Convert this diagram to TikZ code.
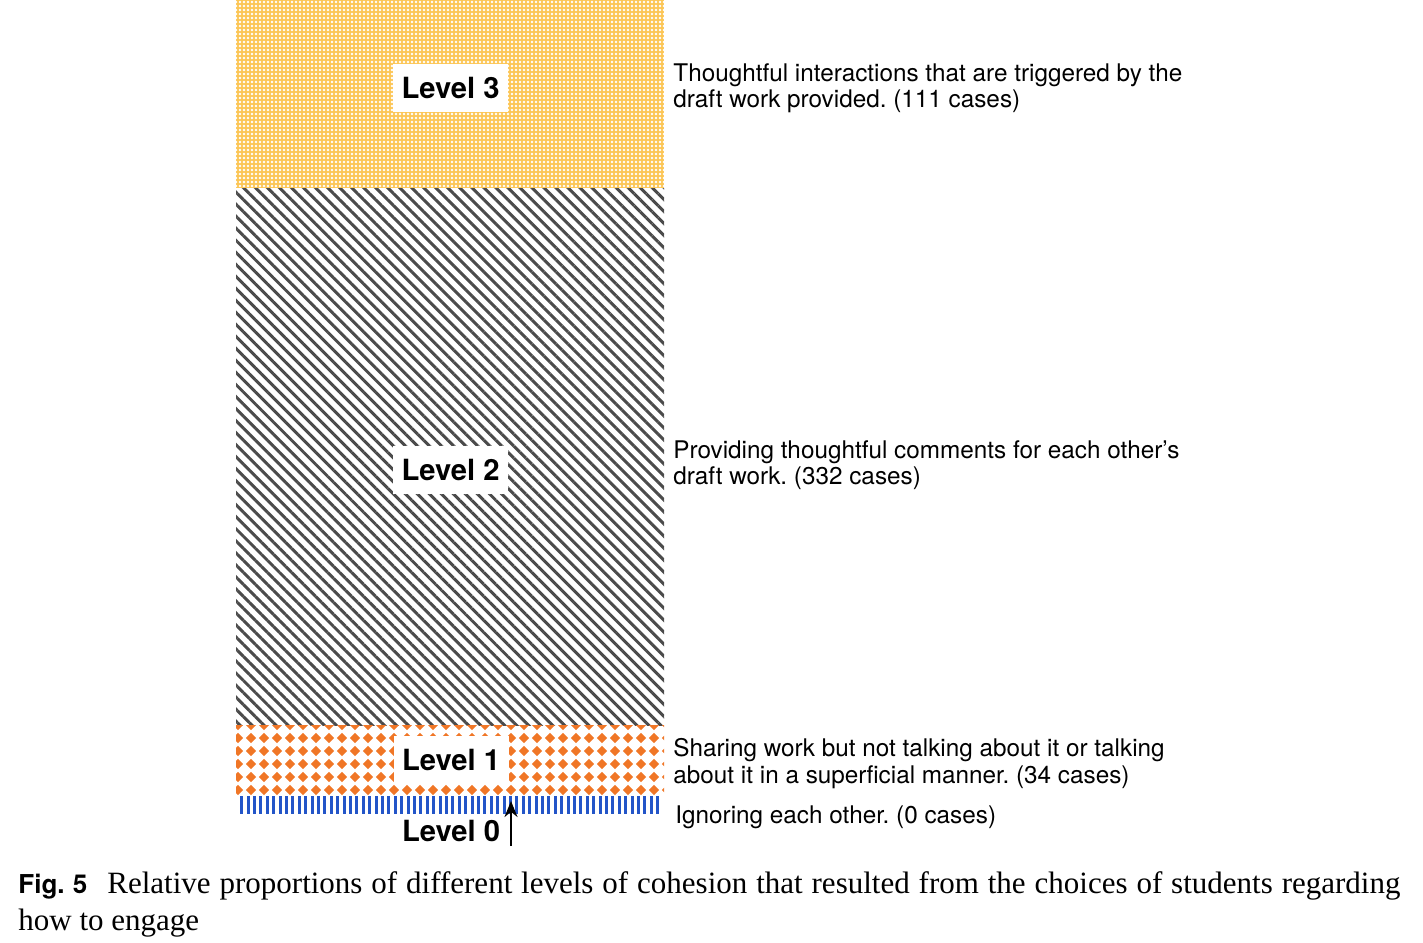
\documentclass[tikz,border=0pt]{standalone}
\usepackage{fontspec}
\setmainfont{Liberation Serif}
\newfontfamily\dfont{TeX Gyre Heros}
\usetikzlibrary{patterns.meta,arrows.meta}
\frenchspacing
\definecolor{yel}{RGB}{252,198,85}
\definecolor{hatchc}{RGB}{75,75,75}
\definecolor{orng}{RGB}{240,118,38}
\definecolor{blu}{RGB}{35,85,200}
\tikzset{
  lvl/.style={fill=white, minimum width=57.5pt, minimum height=24pt, inner sep=0pt,
    font=\dfont\bfseries\fontsize{14.6}{16}\selectfont},
  desc/.style={anchor=base west, inner sep=0pt, font=\dfont\fontsize{12.15}{14}\selectfont},
  captxt/.style={anchor=base west, inner sep=0pt, font=\fontsize{15.5}{17}\selectfont},
}
\begin{document}
\begin{tikzpicture}[x=0.5pt,y=-0.5pt]
\useasboundingbox (0,0) rectangle (1423,942);
% Level 3 region
\fill[yel] (236,0) rectangle (664,188);
\fill[pattern={Dots[radius=0.68pt,distance=2pt]},pattern color=white] (236,0) rectangle (664,188);
% Level 2 region
\fill[pattern={Lines[angle=-45,distance=4.25pt,line width=1.5pt]},pattern color=hatchc] (236,188) rectangle (664,725);
% Level 1 region
\begin{scope}
  \clip (236,725) rectangle (664,795);
  \foreach \i in {0,...,33}{
    \foreach \j in {0,...,5}{
      \fill[orng] ({238+13*\i-5.2},{725+13*\j}) -- ({238+13*\i},{725+13*\j-5.2})
        -- ({238+13*\i+5.2},{725+13*\j}) -- ({238+13*\i},{725+13*\j+5.2}) -- cycle;
    }
  }
\end{scope}
% Level 0 region
\foreach \k in {0,...,65}{
  \fill[blu] ({241.7+6.4*\k-1.5},796) rectangle ++(3,18);
}
% labels
\node[lvl] (l3) at (450.5,87.5) {Level 3};
\node[lvl] (l2) at (450.5,469.5) {Level 2};
\node[lvl] (l1) at (451,760) {Level 1};
\node[inner sep=0pt, font=\dfont\bfseries\fontsize{14.6}{16}\selectfont] (l0) at (451,831) {Level 0};
\coordinate (a0s) at (511,846);
\coordinate (a0e) at (511,801);
\draw[line width=1.2pt, -{Stealth[length=8pt,width=6.5pt]}] (a0s) -- (a0e);
% descriptions
\node[desc] (d3a) at (673,81) {Thoughtful interactions that are triggered by the};
\node[desc] (d3b) at (673,107) {draft work provided. (111 cases)};
\node[desc] (d2a) at (673,458) {Providing thoughtful comments for each other’s};
\node[desc] (d2b) at (673,484) {draft work. (332 cases)};
\node[desc] (d1a) at (673,756) {Sharing work but not talking about it or talking};
\node[desc] (d1b) at (673,783) {about it in a superficial manner. (34 cases)};
\node[desc] (d0) at (675,823) {Ignoring each other. (0 cases)};
% caption
\node[captxt] (cap1) at (18,893) {\makebox[691pt][s]{{\dfont\bfseries\fontsize{13}{16}\selectfont Fig. 5}\hspace{10pt}Relative proportions of different levels of cohesion that resulted from the choices of students regarding}};
\node[captxt] (cap2) at (18,930) {how to engage};
\end{tikzpicture}
\end{document}
